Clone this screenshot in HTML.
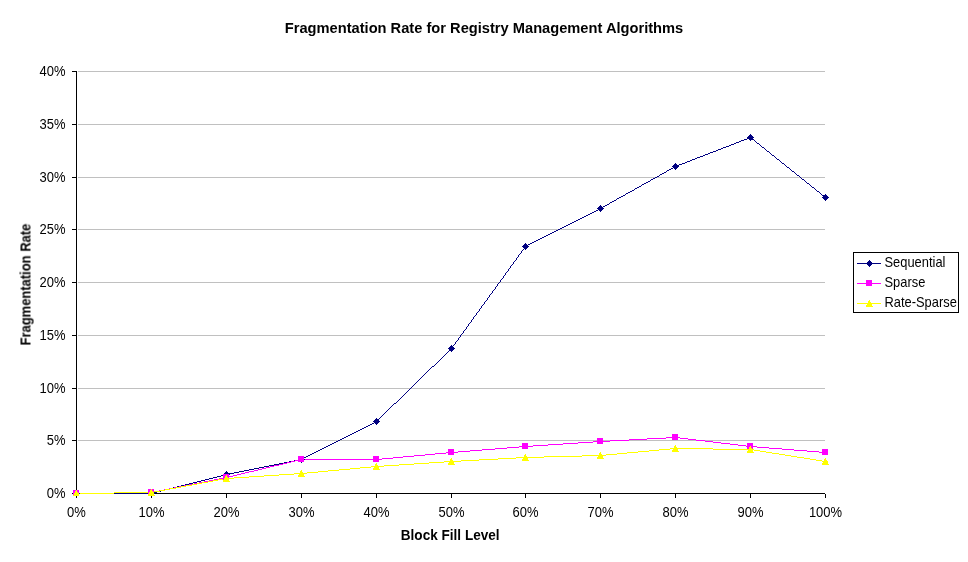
<!DOCTYPE html>
<html lang="en"><head><meta charset="utf-8"><title>Fragmentation Rate for Registry Management Algorithms</title>
<style>
html,body{margin:0;padding:0;background:#fff;}
body{width:968px;height:562px;overflow:hidden;}
svg{display:block;}
text{font-family:"Liberation Sans",sans-serif;fill:#000;}
.t{font-size:14.67px;font-weight:bold;}
.a{font-size:14px;font-weight:bold;}
.l{font-size:14px;}
.g{font-size:14px;}
</style></head><body>
<svg width="968" height="562" viewBox="0 0 968 562" shape-rendering="crispEdges">
<rect width="968" height="562" fill="#fff"/>
<defs><clipPath id="c"><rect x="0" y="0" width="968" height="496"/></clipPath></defs>
<path d="M78 71h747v1h-747zM78 124h747v1h-747zM78 177h747v1h-747zM78 229h747v1h-747zM78 282h747v1h-747zM78 335h747v1h-747zM78 388h747v1h-747zM78 440h747v1h-747z" fill="#c0c0c0"/>
<path d="M76 71h1v423h-1zM76 493h749v1h-749zM72 71h4v1h-4zM72 124h4v1h-4zM72 177h4v1h-4zM72 229h4v1h-4zM72 282h4v1h-4zM72 335h4v1h-4zM72 388h4v1h-4zM72 440h4v1h-4zM72 493h4v1h-4zM76 494h1v4h-1zM151 494h1v4h-1zM226 494h1v4h-1zM301 494h1v4h-1zM376 494h1v4h-1zM451 494h1v4h-1zM525 494h1v4h-1zM600 494h1v4h-1zM675 494h1v4h-1zM750 494h1v4h-1zM825 494h1v4h-1z" fill="#000"/>
<g clip-path="url(#c)">
<path d="M749 137h2v1h-2zM747 138h2v1h-2zM751 138h1v1h-1zM744 139h3v1h-3zM752 139h2v1h-2zM741 140h3v1h-3zM754 140h1v1h-1zM739 141h2v1h-2zM755 141h1v1h-1zM736 142h3v1h-3zM756 142h1v1h-1zM734 143h2v1h-2zM757 143h2v1h-2zM731 144h3v1h-3zM759 144h1v1h-1zM729 145h2v1h-2zM760 145h1v1h-1zM726 146h3v1h-3zM761 146h1v1h-1zM723 147h3v1h-3zM762 147h2v1h-2zM721 148h2v1h-2zM764 148h1v1h-1zM718 149h3v1h-3zM765 149h1v1h-1zM716 150h2v1h-2zM766 150h1v1h-1zM713 151h3v1h-3zM767 151h2v1h-2zM710 152h3v1h-3zM769 152h1v1h-1zM708 153h2v1h-2zM770 153h1v1h-1zM705 154h3v1h-3zM771 154h1v1h-1zM703 155h2v1h-2zM772 155h2v1h-2zM700 156h3v1h-3zM774 156h1v1h-1zM697 157h3v1h-3zM775 157h1v1h-1zM695 158h2v1h-2zM776 158h1v1h-1zM692 159h3v1h-3zM777 159h2v1h-2zM690 160h2v1h-2zM779 160h1v1h-1zM687 161h3v1h-3zM780 161h1v1h-1zM685 162h2v1h-2zM781 162h1v1h-1zM682 163h3v1h-3zM782 163h2v1h-2zM679 164h3v1h-3zM784 164h1v1h-1zM677 165h2v1h-2zM785 165h1v1h-1zM675 166h2v1h-2zM786 166h1v1h-1zM673 167h2v1h-2zM787 167h2v1h-2zM671 168h2v1h-2zM789 168h1v1h-1zM669 169h2v1h-2zM790 169h1v1h-1zM667 170h2v1h-2zM791 170h1v1h-1zM666 171h1v1h-1zM792 171h2v1h-2zM664 172h2v1h-2zM794 172h1v1h-1zM662 173h2v1h-2zM795 173h1v1h-1zM660 174h2v1h-2zM796 174h1v1h-1zM659 175h1v1h-1zM797 175h2v1h-2zM657 176h2v1h-2zM799 176h1v1h-1zM655 177h2v1h-2zM800 177h1v1h-1zM653 178h2v1h-2zM801 178h1v1h-1zM651 179h2v1h-2zM802 179h2v1h-2zM650 180h1v1h-1zM804 180h1v1h-1zM648 181h2v1h-2zM805 181h1v1h-1zM646 182h2v1h-2zM806 182h1v1h-1zM644 183h2v1h-2zM807 183h2v1h-2zM642 184h2v1h-2zM809 184h1v1h-1zM641 185h1v1h-1zM810 185h1v1h-1zM639 186h2v1h-2zM811 186h1v1h-1zM637 187h2v1h-2zM812 187h2v1h-2zM635 188h2v1h-2zM814 188h1v1h-1zM634 189h1v1h-1zM815 189h1v1h-1zM632 190h2v1h-2zM816 190h1v1h-1zM630 191h2v1h-2zM817 191h2v1h-2zM628 192h2v1h-2zM819 192h1v1h-1zM626 193h2v1h-2zM820 193h1v1h-1zM625 194h1v1h-1zM821 194h1v1h-1zM623 195h2v1h-2zM822 195h2v1h-2zM621 196h2v1h-2zM824 196h1v1h-1zM619 197h2v1h-2zM825 197h1v1h-1zM617 198h2v1h-2zM616 199h1v1h-1zM614 200h2v1h-2zM612 201h2v1h-2zM610 202h2v1h-2zM609 203h1v1h-1zM607 204h2v1h-2zM605 205h2v1h-2zM603 206h2v1h-2zM601 207h2v1h-2zM600 208h1v1h-1zM598 209h2v1h-2zM596 210h2v1h-2zM594 211h2v1h-2zM592 212h2v1h-2zM590 213h2v1h-2zM588 214h2v1h-2zM586 215h2v1h-2zM584 216h2v1h-2zM582 217h2v1h-2zM580 218h2v1h-2zM578 219h2v1h-2zM576 220h2v1h-2zM574 221h2v1h-2zM572 222h2v1h-2zM570 223h2v1h-2zM568 224h2v1h-2zM566 225h2v1h-2zM564 226h2v1h-2zM562 227h2v1h-2zM560 228h2v1h-2zM558 229h2v1h-2zM556 230h2v1h-2zM554 231h2v1h-2zM552 232h2v1h-2zM550 233h2v1h-2zM548 234h2v1h-2zM546 235h2v1h-2zM544 236h2v1h-2zM542 237h2v1h-2zM540 238h2v1h-2zM538 239h2v1h-2zM536 240h2v1h-2zM534 241h2v1h-2zM532 242h2v1h-2zM530 243h2v1h-2zM528 244h2v1h-2zM526 245h2v1h-2zM525 246h1v1h-1zM524 247h1v1h-1zM524 248h1v1h-1zM523 249h1v1h-1zM522 250h1v1h-1zM521 251h1v1h-1zM521 252h1v1h-1zM520 253h1v1h-1zM519 254h1v1h-1zM518 255h1v1h-1zM518 256h1v1h-1zM517 257h1v1h-1zM516 258h1v1h-1zM516 259h1v1h-1zM515 260h1v1h-1zM514 261h1v1h-1zM513 262h1v1h-1zM513 263h1v1h-1zM512 264h1v1h-1zM511 265h1v1h-1zM510 266h1v1h-1zM510 267h1v1h-1zM509 268h1v1h-1zM508 269h1v1h-1zM508 270h1v1h-1zM507 271h1v1h-1zM506 272h1v1h-1zM505 273h1v1h-1zM505 274h1v1h-1zM504 275h1v1h-1zM503 276h1v1h-1zM503 277h1v1h-1zM502 278h1v1h-1zM501 279h1v1h-1zM500 280h1v1h-1zM500 281h1v1h-1zM499 282h1v1h-1zM498 283h1v1h-1zM497 284h1v1h-1zM497 285h1v1h-1zM496 286h1v1h-1zM495 287h1v1h-1zM495 288h1v1h-1zM494 289h1v1h-1zM493 290h1v1h-1zM492 291h1v1h-1zM492 292h1v1h-1zM491 293h1v1h-1zM490 294h1v1h-1zM489 295h1v1h-1zM489 296h1v1h-1zM488 297h1v1h-1zM487 298h1v1h-1zM487 299h1v1h-1zM486 300h1v1h-1zM485 301h1v1h-1zM484 302h1v1h-1zM484 303h1v1h-1zM483 304h1v1h-1zM482 305h1v1h-1zM481 306h1v1h-1zM481 307h1v1h-1zM480 308h1v1h-1zM479 309h1v1h-1zM479 310h1v1h-1zM478 311h1v1h-1zM477 312h1v1h-1zM476 313h1v1h-1zM476 314h1v1h-1zM475 315h1v1h-1zM474 316h1v1h-1zM473 317h1v1h-1zM473 318h1v1h-1zM472 319h1v1h-1zM471 320h1v1h-1zM471 321h1v1h-1zM470 322h1v1h-1zM469 323h1v1h-1zM468 324h1v1h-1zM468 325h1v1h-1zM467 326h1v1h-1zM466 327h1v1h-1zM466 328h1v1h-1zM465 329h1v1h-1zM464 330h1v1h-1zM463 331h1v1h-1zM463 332h1v1h-1zM462 333h1v1h-1zM461 334h1v1h-1zM460 335h1v1h-1zM460 336h1v1h-1zM459 337h1v1h-1zM458 338h1v1h-1zM458 339h1v1h-1zM457 340h1v1h-1zM456 341h1v1h-1zM455 342h1v1h-1zM455 343h1v1h-1zM454 344h1v1h-1zM453 345h1v1h-1zM452 346h1v1h-1zM452 347h1v1h-1zM451 348h1v1h-1zM450 349h1v1h-1zM449 350h1v1h-1zM448 351h1v1h-1zM447 352h1v1h-1zM446 353h1v1h-1zM445 354h1v1h-1zM444 355h1v1h-1zM443 356h1v1h-1zM442 357h1v1h-1zM441 358h1v1h-1zM440 359h1v1h-1zM439 360h1v1h-1zM438 361h1v1h-1zM437 362h1v1h-1zM436 363h1v1h-1zM435 364h1v1h-1zM434 365h1v1h-1zM432 366h2v1h-2zM431 367h1v1h-1zM430 368h1v1h-1zM429 369h1v1h-1zM428 370h1v1h-1zM427 371h1v1h-1zM426 372h1v1h-1zM425 373h1v1h-1zM424 374h1v1h-1zM423 375h1v1h-1zM422 376h1v1h-1zM421 377h1v1h-1zM420 378h1v1h-1zM419 379h1v1h-1zM418 380h1v1h-1zM417 381h1v1h-1zM416 382h1v1h-1zM415 383h1v1h-1zM414 384h1v1h-1zM413 385h1v1h-1zM412 386h1v1h-1zM411 387h1v1h-1zM410 388h1v1h-1zM409 389h1v1h-1zM408 390h1v1h-1zM407 391h1v1h-1zM406 392h1v1h-1zM405 393h1v1h-1zM404 394h1v1h-1zM403 395h1v1h-1zM402 396h1v1h-1zM401 397h1v1h-1zM400 398h1v1h-1zM399 399h1v1h-1zM398 400h1v1h-1zM397 401h1v1h-1zM396 402h1v1h-1zM394 403h2v1h-2zM393 404h1v1h-1zM392 405h1v1h-1zM391 406h1v1h-1zM390 407h1v1h-1zM389 408h1v1h-1zM388 409h1v1h-1zM387 410h1v1h-1zM386 411h1v1h-1zM385 412h1v1h-1zM384 413h1v1h-1zM383 414h1v1h-1zM382 415h1v1h-1zM381 416h1v1h-1zM380 417h1v1h-1zM379 418h1v1h-1zM378 419h1v1h-1zM377 420h1v1h-1zM376 421h1v1h-1zM374 422h2v1h-2zM372 423h2v1h-2zM370 424h2v1h-2zM368 425h2v1h-2zM366 426h2v1h-2zM364 427h2v1h-2zM362 428h2v1h-2zM360 429h2v1h-2zM358 430h2v1h-2zM356 431h2v1h-2zM354 432h2v1h-2zM352 433h2v1h-2zM350 434h2v1h-2zM348 435h2v1h-2zM346 436h2v1h-2zM344 437h2v1h-2zM342 438h2v1h-2zM340 439h2v1h-2zM338 440h2v1h-2zM336 441h2v1h-2zM334 442h2v1h-2zM332 443h2v1h-2zM330 444h2v1h-2zM328 445h2v1h-2zM326 446h2v1h-2zM324 447h2v1h-2zM322 448h2v1h-2zM320 449h2v1h-2zM318 450h2v1h-2zM316 451h2v1h-2zM314 452h2v1h-2zM312 453h2v1h-2zM310 454h2v1h-2zM308 455h2v1h-2zM306 456h2v1h-2zM304 457h2v1h-2zM302 458h2v1h-2zM299 459h3v1h-3zM294 460h5v1h-5zM289 461h5v1h-5zM284 462h5v1h-5zM279 463h5v1h-5zM274 464h5v1h-5zM269 465h5v1h-5zM264 466h5v1h-5zM259 467h5v1h-5zM254 468h5v1h-5zM249 469h5v1h-5zM244 470h5v1h-5zM239 471h5v1h-5zM234 472h5v1h-5zM229 473h5v1h-5zM225 474h4v1h-4zM221 475h4v1h-4zM217 476h4v1h-4zM213 477h4v1h-4zM209 478h4v1h-4zM205 479h4v1h-4zM201 480h4v1h-4zM197 481h4v1h-4zM193 482h4v1h-4zM189 483h4v1h-4zM185 484h4v1h-4zM181 485h4v1h-4zM177 486h4v1h-4zM173 487h4v1h-4zM169 488h4v1h-4zM165 489h4v1h-4zM161 490h4v1h-4zM157 491h4v1h-4zM153 492h4v1h-4zM76 493h77v1h-77z" fill="#000080"/>
<path d="M666 437h14v1h-14zM647 438h19v1h-19zM680 438h8v1h-8zM629 439h18v1h-18zM688 439h8v1h-8zM610 440h19v1h-19zM696 440h9v1h-9zM593 441h17v1h-17zM705 441h8v1h-8zM578 442h15v1h-15zM713 442h8v1h-8zM563 443h15v1h-15zM721 443h9v1h-9zM548 444h15v1h-15zM730 444h8v1h-8zM533 445h15v1h-15zM738 445h8v1h-8zM519 446h14v1h-14zM746 446h11v1h-11zM507 447h12v1h-12zM757 447h12v1h-12zM495 448h12v1h-12zM769 448h13v1h-13zM482 449h13v1h-13zM782 449h12v1h-12zM470 450h12v1h-12zM794 450h13v1h-13zM458 451h12v1h-12zM807 451h12v1h-12zM446 452h12v1h-12zM819 452h7v1h-7zM435 453h11v1h-11zM425 454h10v1h-10zM414 455h11v1h-11zM403 456h11v1h-11zM393 457h10v1h-10zM382 458h11v1h-11zM299 459h83v1h-83zM295 460h4v1h-4zM291 461h4v1h-4zM287 462h4v1h-4zM283 463h4v1h-4zM279 464h4v1h-4zM274 465h5v1h-5zM270 466h4v1h-4zM266 467h4v1h-4zM262 468h4v1h-4zM258 469h4v1h-4zM254 470h4v1h-4zM249 471h5v1h-5zM245 472h4v1h-4zM241 473h4v1h-4zM237 474h4v1h-4zM233 475h4v1h-4zM229 476h4v1h-4zM224 477h5v1h-5zM219 478h5v1h-5zM214 479h5v1h-5zM209 480h5v1h-5zM204 481h5v1h-5zM199 482h5v1h-5zM194 483h5v1h-5zM189 484h5v1h-5zM184 485h5v1h-5zM179 486h5v1h-5zM174 487h5v1h-5zM169 488h5v1h-5zM164 489h5v1h-5zM159 490h5v1h-5zM154 491h5v1h-5zM114 492h40v1h-40zM76 493h38v1h-38z" fill="#ff00ff"/>
<path d="M670 448h43v1h-43zM659 449h11v1h-11zM713 449h41v1h-41zM649 450h10v1h-10zM754 450h6v1h-6zM638 451h11v1h-11zM760 451h6v1h-6zM627 452h11v1h-11zM766 452h6v1h-6zM617 453h10v1h-10zM772 453h7v1h-7zM606 454h11v1h-11zM779 454h6v1h-6zM582 455h24v1h-24zM785 455h6v1h-6zM544 456h38v1h-38zM791 456h6v1h-6zM516 457h28v1h-28zM797 457h7v1h-7zM498 458h18v1h-18zM804 458h6v1h-6zM479 459h19v1h-19zM810 459h6v1h-6zM461 460h18v1h-18zM816 460h6v1h-6zM444 461h17v1h-17zM822 461h4v1h-4zM429 462h15v1h-15zM414 463h15v1h-15zM399 464h15v1h-15zM384 465h15v1h-15zM371 466h13v1h-13zM360 467h11v1h-11zM350 468h10v1h-10zM339 469h11v1h-11zM328 470h11v1h-11zM318 471h10v1h-10zM307 472h11v1h-11zM294 473h13v1h-13zM279 474h15v1h-15zM264 475h15v1h-15zM249 476h15v1h-15zM234 477h15v1h-15zM224 478h10v1h-10zM218 479h6v1h-6zM213 480h5v1h-5zM208 481h5v1h-5zM202 482h6v1h-6zM197 483h5v1h-5zM192 484h5v1h-5zM186 485h6v1h-6zM181 486h5v1h-5zM176 487h5v1h-5zM170 488h6v1h-6zM165 489h5v1h-5zM160 490h5v1h-5zM154 491h6v1h-6zM114 492h40v1h-40zM76 493h38v1h-38z" fill="#ffff00"/>
<path d="M750 134h1v1h-1zM749 135h3v1h-3zM748 136h5v1h-5zM747 137h7v1h-7zM748 138h5v1h-5zM749 139h3v1h-3zM750 140h1v1h-1zM675 163h1v1h-1zM674 164h3v1h-3zM673 165h5v1h-5zM672 166h7v1h-7zM673 167h5v1h-5zM674 168h3v1h-3zM675 169h1v1h-1zM825 194h1v1h-1zM824 195h3v1h-3zM823 196h5v1h-5zM822 197h7v1h-7zM823 198h5v1h-5zM824 199h3v1h-3zM825 200h1v1h-1zM600 205h1v1h-1zM599 206h3v1h-3zM598 207h5v1h-5zM597 208h7v1h-7zM598 209h5v1h-5zM599 210h3v1h-3zM600 211h1v1h-1zM525 243h1v1h-1zM524 244h3v1h-3zM523 245h5v1h-5zM522 246h7v1h-7zM523 247h5v1h-5zM524 248h3v1h-3zM525 249h1v1h-1zM451 345h1v1h-1zM450 346h3v1h-3zM449 347h5v1h-5zM448 348h7v1h-7zM449 349h5v1h-5zM450 350h3v1h-3zM451 351h1v1h-1zM376 418h1v1h-1zM375 419h3v1h-3zM374 420h5v1h-5zM373 421h7v1h-7zM374 422h5v1h-5zM375 423h3v1h-3zM376 424h1v1h-1zM301 456h1v1h-1zM300 457h3v1h-3zM299 458h5v1h-5zM298 459h7v1h-7zM299 460h5v1h-5zM300 461h3v1h-3zM301 462h1v1h-1zM226 471h1v1h-1zM225 472h3v1h-3zM224 473h5v1h-5zM223 474h7v1h-7zM224 475h5v1h-5zM225 476h3v1h-3zM226 477h1v1h-1zM76 490h1v1h-1zM151 490h1v1h-1zM75 491h3v1h-3zM150 491h3v1h-3zM74 492h5v1h-5zM149 492h5v1h-5zM73 493h7v1h-7zM148 493h7v1h-7zM74 494h5v1h-5zM149 494h5v1h-5zM75 495h3v1h-3zM150 495h3v1h-3zM76 496h1v1h-1zM151 496h1v1h-1z" fill="#000080"/>
<path d="M672 434h6v1h-6zM672 435h6v1h-6zM672 436h6v1h-6zM672 437h6v1h-6zM597 438h6v1h-6zM672 438h6v1h-6zM597 439h6v1h-6zM672 439h6v1h-6zM597 440h6v1h-6zM597 441h6v1h-6zM597 442h6v1h-6zM522 443h6v1h-6zM597 443h6v1h-6zM747 443h6v1h-6zM522 444h6v1h-6zM747 444h6v1h-6zM522 445h6v1h-6zM747 445h6v1h-6zM522 446h6v1h-6zM747 446h6v1h-6zM522 447h6v1h-6zM747 447h6v1h-6zM522 448h6v1h-6zM747 448h6v1h-6zM448 449h6v1h-6zM822 449h6v1h-6zM448 450h6v1h-6zM822 450h6v1h-6zM448 451h6v1h-6zM822 451h6v1h-6zM448 452h6v1h-6zM822 452h6v1h-6zM448 453h6v1h-6zM822 453h6v1h-6zM448 454h6v1h-6zM822 454h6v1h-6zM298 456h6v1h-6zM373 456h6v1h-6zM298 457h6v1h-6zM373 457h6v1h-6zM298 458h6v1h-6zM373 458h6v1h-6zM298 459h6v1h-6zM373 459h6v1h-6zM298 460h6v1h-6zM373 460h6v1h-6zM298 461h6v1h-6zM373 461h6v1h-6zM223 474h6v1h-6zM223 475h6v1h-6zM223 476h6v1h-6zM223 477h6v1h-6zM223 478h6v1h-6zM223 479h6v1h-6zM148 489h6v1h-6zM73 490h6v1h-6zM148 490h6v1h-6zM73 491h6v1h-6zM148 491h6v1h-6zM73 492h6v1h-6zM148 492h6v1h-6zM73 493h6v1h-6zM148 493h6v1h-6zM73 494h6v1h-6zM148 494h6v1h-6zM73 495h6v1h-6z" fill="#ff00ff"/>
<path d="M675 445h1v1h-1zM674 446h2v1h-2zM750 446h1v1h-1zM674 447h3v1h-3zM749 447h2v1h-2zM673 448h5v1h-5zM749 448h3v1h-3zM673 449h5v1h-5zM748 449h5v1h-5zM672 450h6v1h-6zM748 450h5v1h-5zM672 451h7v1h-7zM747 451h6v1h-6zM600 452h1v1h-1zM747 452h7v1h-7zM599 453h2v1h-2zM525 454h1v1h-1zM599 454h3v1h-3zM524 455h2v1h-2zM598 455h5v1h-5zM524 456h3v1h-3zM598 456h5v1h-5zM523 457h5v1h-5zM597 457h6v1h-6zM451 458h1v1h-1zM523 458h5v1h-5zM597 458h7v1h-7zM825 458h1v1h-1zM450 459h2v1h-2zM522 459h6v1h-6zM824 459h2v1h-2zM450 460h3v1h-3zM522 460h7v1h-7zM824 460h3v1h-3zM449 461h5v1h-5zM823 461h5v1h-5zM449 462h5v1h-5zM823 462h5v1h-5zM376 463h1v1h-1zM448 463h6v1h-6zM822 463h6v1h-6zM375 464h2v1h-2zM448 464h7v1h-7zM822 464h7v1h-7zM375 465h3v1h-3zM374 466h5v1h-5zM374 467h5v1h-5zM373 468h6v1h-6zM373 469h7v1h-7zM301 470h1v1h-1zM300 471h2v1h-2zM300 472h3v1h-3zM299 473h5v1h-5zM299 474h5v1h-5zM226 475h1v1h-1zM298 475h6v1h-6zM225 476h2v1h-2zM298 476h7v1h-7zM225 477h3v1h-3zM224 478h5v1h-5zM224 479h5v1h-5zM223 480h6v1h-6zM223 481h7v1h-7zM151 489h1v1h-1zM76 490h1v1h-1zM150 490h2v1h-2zM75 491h2v1h-2zM150 491h3v1h-3zM75 492h3v1h-3zM149 492h5v1h-5zM74 493h5v1h-5zM149 493h5v1h-5zM74 494h5v1h-5zM148 494h6v1h-6zM73 495h6v1h-6zM148 495h7v1h-7zM73 496h7v1h-7z" fill="#ffff00"/>
</g>
<path d="M853 252h106v61h-106zM854 253v59h104v-59z" fill="#000" fill-rule="evenodd"/>
<path d="M857 263h24v1h-24zM869 260h1v1h-1zM868 261h3v1h-3zM867 262h5v1h-5zM866 263h7v1h-7zM867 264h5v1h-5zM868 265h3v1h-3zM869 266h1v1h-1z" fill="#000080"/>
<path d="M857 283h24v1h-24zM866 280h6v1h-6zM866 281h6v1h-6zM866 282h6v1h-6zM866 283h6v1h-6zM866 284h6v1h-6zM866 285h6v1h-6z" fill="#ff00ff"/>
<path d="M857 303h24v1h-24zM869 300h1v1h-1zM868 301h2v1h-2zM868 302h3v1h-3zM867 303h5v1h-5zM867 304h5v1h-5zM866 305h6v1h-6zM866 306h7v1h-7z" fill="#ffff00"/>
<g shape-rendering="auto" opacity="0.999">
<text class="t" x="484" y="33" text-anchor="middle">Fragmentation Rate for Registry Management Algorithms</text>
<text class="a" transform="translate(450.2 540) scale(0.9700 1)" text-anchor="middle">Block Fill Level</text>
<text class="a" transform="translate(30.5 284.5) rotate(-90) scale(0.9263 1)" text-anchor="middle">Fragmentation Rate</text>
<text class="l" transform="translate(65.5 76) scale(0.9286 1)" text-anchor="end">40%</text>
<text class="l" transform="translate(65.5 129) scale(0.9286 1)" text-anchor="end">35%</text>
<text class="l" transform="translate(65.5 182) scale(0.9286 1)" text-anchor="end">30%</text>
<text class="l" transform="translate(65.5 234) scale(0.9286 1)" text-anchor="end">25%</text>
<text class="l" transform="translate(65.5 287) scale(0.9286 1)" text-anchor="end">20%</text>
<text class="l" transform="translate(65.5 340) scale(0.9286 1)" text-anchor="end">15%</text>
<text class="l" transform="translate(65.5 393) scale(0.9286 1)" text-anchor="end">10%</text>
<text class="l" transform="translate(65.5 445) scale(0.9286 1)" text-anchor="end">5%</text>
<text class="l" transform="translate(65.5 498) scale(0.9286 1)" text-anchor="end">0%</text>
<text class="l" transform="translate(76.5 517) scale(0.9286 1)" text-anchor="middle">0%</text>
<text class="l" transform="translate(151.5 517) scale(0.9286 1)" text-anchor="middle">10%</text>
<text class="l" transform="translate(226.5 517) scale(0.9286 1)" text-anchor="middle">20%</text>
<text class="l" transform="translate(301.5 517) scale(0.9286 1)" text-anchor="middle">30%</text>
<text class="l" transform="translate(376.5 517) scale(0.9286 1)" text-anchor="middle">40%</text>
<text class="l" transform="translate(451.5 517) scale(0.9286 1)" text-anchor="middle">50%</text>
<text class="l" transform="translate(525.5 517) scale(0.9286 1)" text-anchor="middle">60%</text>
<text class="l" transform="translate(600.5 517) scale(0.9286 1)" text-anchor="middle">70%</text>
<text class="l" transform="translate(675.5 517) scale(0.9286 1)" text-anchor="middle">80%</text>
<text class="l" transform="translate(750.5 517) scale(0.9286 1)" text-anchor="middle">90%</text>
<text class="l" transform="translate(825.5 517) scale(0.9286 1)" text-anchor="middle">100%</text>
<text class="g" transform="translate(884.5 267) scale(0.9214 1)">Sequential</text>
<text class="g" transform="translate(884.5 287) scale(0.9214 1)">Sparse</text>
<text class="g" transform="translate(884.5 307) scale(0.9214 1)">Rate-Sparse</text>
</g>
</svg></body></html>
